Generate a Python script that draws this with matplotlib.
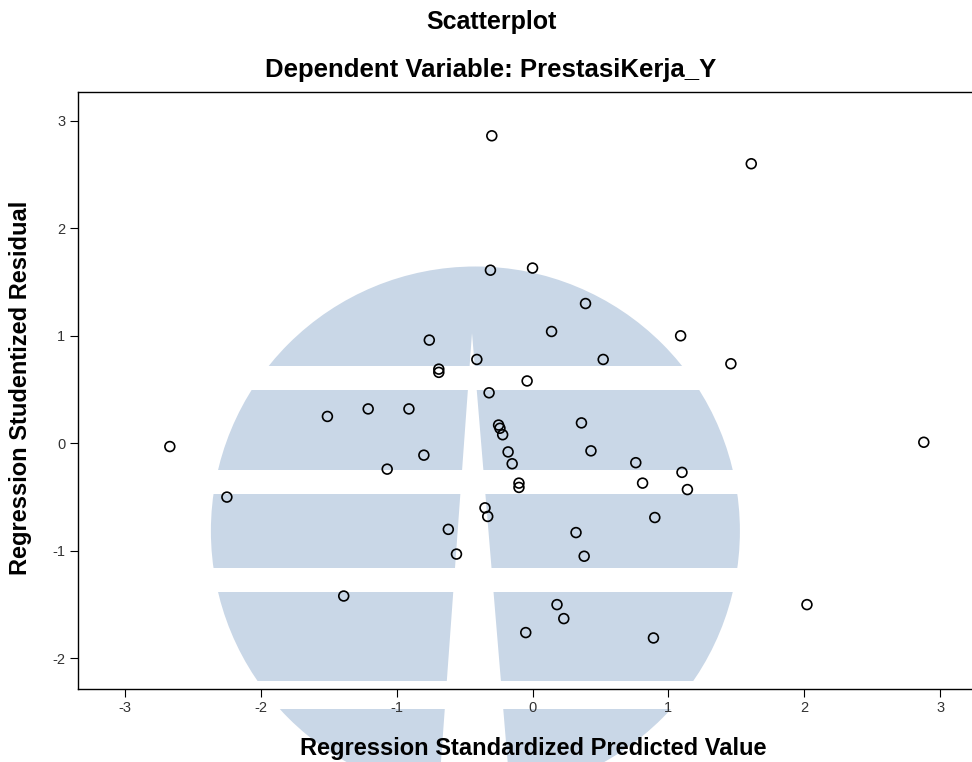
import matplotlib.pyplot as plt
from matplotlib.patches import Circle, Rectangle, Polygon

plt.rcParams['font.family'] = ['Liberation Sans', 'DejaVu Sans']
plt.rcParams['axes.unicode_minus'] = False

# regression standardized predicted value (x) and studentized residual (y)
predicted = [-0.30, 1.61, -0.31, 0.00, 0.39, 0.14, 1.09, -0.76, -0.41, 0.52,
             1.46, -0.69, -0.69, -0.04, -0.32, -1.51, -1.21, -0.91, 0.36, -0.25,
             -0.24, -0.22, -0.18, 0.43, -2.67, 2.88, -0.80, -0.15, 0.76, -1.07,
             1.10, -0.10, -0.10, 0.81, 1.14, -2.25, -0.35, -0.33, -0.62, 0.32,
             0.90, -0.56, 0.38, -1.39, 2.02, 0.18, 0.23, -0.05, 0.89]
residual = [2.86, 2.60, 1.61, 1.63, 1.30, 1.04, 1.00, 0.96, 0.78, 0.78,
            0.74, 0.69, 0.66, 0.58, 0.47, 0.25, 0.32, 0.32, 0.19, 0.17,
            0.14, 0.08, -0.08, -0.07, -0.03, 0.01, -0.11, -0.19, -0.18, -0.24,
            -0.27, -0.37, -0.41, -0.37, -0.43, -0.50, -0.60, -0.68, -0.80, -0.83,
            -0.69, -1.03, -1.05, -1.42, -1.50, -1.50, -1.63, -1.76, -1.81]

x_ticks = [-3, -2, -1, 0, 1, 2, 3]
y_ticks = [-2, -1, 0, 1, 2, 3]

fig = plt.figure(figsize=(9.72, 7.62), dpi=100)

# pale watermark logo behind the plot (pixel coordinates)
bg = fig.add_axes([0, 0, 1, 1])
bg.set_xlim(0, 972)
bg.set_ylim(762, 0)
bg.axis('off')
wm = '#c9d7e7'
bg.add_patch(Circle((475.4, 531), 264.5, color=wm, lw=0))
for y0, y1 in [(366, 390), (470, 494), (568, 592), (681, 709)]:
    bg.add_patch(Rectangle((150, y0), 700, y1 - y0, color='white', lw=0))
bg.add_patch(Polygon([(472, 333), (438.2, 800), (510.8, 800)], color='white', lw=0))

ax = fig.add_axes([78 / 972, 1 - 688.5 / 762, (989 - 78) / 972, (688.5 - 91.7) / 762],
                  facecolor='none')
ax.scatter(predicted, residual, s=50, facecolors='none', edgecolors='black',
           linewidths=1.2, zorder=3)

ax.set_xlim(-3.346, 3.36)
ax.set_ylim(-2.28, 3.27)
ax.set_xticks(x_ticks)
ax.set_yticks(y_ticks)
ax.tick_params(direction='out', length=6, width=0.8, labelsize=10.5,
               labelcolor='#333333', pad=3)
for s in ax.spines.values():
    s.set_linewidth(1.0)

fig.text(491 / 972, 1 - 22 / 762, 'Scatterplot', fontsize=18, fontweight='bold',
         ha='center', va='center')
fig.text(490.5 / 972, 1 - 70 / 762, 'Dependent Variable: PrestasiKerja_Y', fontsize=18.5,
         fontweight='bold', ha='center', va='center')
fig.text(533.5 / 972, 1 - 748 / 762, 'Regression Standardized Predicted Value',
         fontsize=17, fontweight='bold', ha='center', va='center')
fig.text(21 / 972, 1 - 387.5 / 762, 'Regression Studentized Residual', fontsize=17,
         fontweight='bold', ha='center', va='center', rotation=90)

plt.savefig('out.png', dpi=100)
